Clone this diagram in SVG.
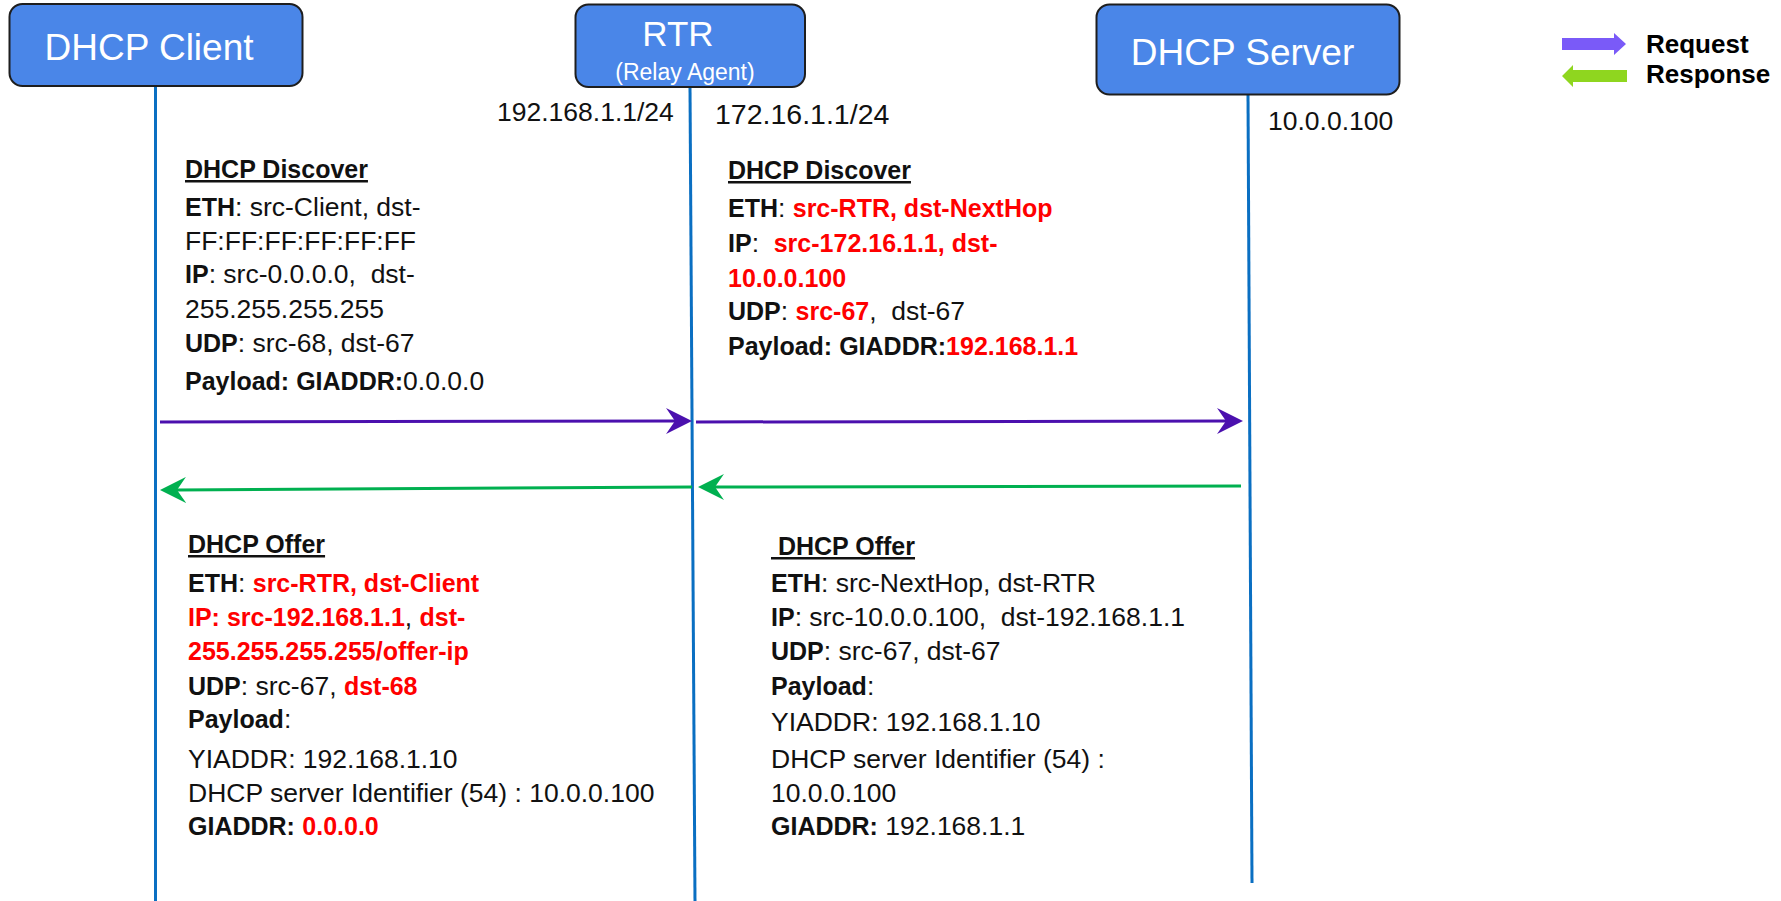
<svg xmlns="http://www.w3.org/2000/svg" width="1781" height="901" viewBox="0 0 1781 901" xml:space="preserve">
<style>
.box{fill:#4a86e8;stroke:#1e1e1e;stroke-width:2}
.hd{font-family:"Liberation Sans",Arial,sans-serif;fill:#ffffff;text-anchor:middle}
.life{stroke:#0a6fc2;stroke-width:3;fill:none}
.t{font-family:"Liberation Sans",Arial,sans-serif;font-size:26.5px;fill:#111111;white-space:pre}
.b{font-weight:bold;font-size:25px}
.r{fill:#ff0000}
.u{text-decoration:underline}
.lbl{font-family:"Liberation Sans",Arial,sans-serif;fill:#111111}
.req{stroke:#4b10ae;stroke-width:3;fill:none}
.rsp{stroke:#00b050;stroke-width:3;fill:none}
.leg{font-family:"Liberation Sans",Arial,sans-serif;font-size:26px;font-weight:bold;fill:#000000}
</style>
<defs>
<marker id="ahReq" markerUnits="userSpaceOnUse" viewBox="0 0 26 26" markerWidth="26" markerHeight="26" refX="9" refY="13" orient="auto"><path d="M0,0 L26,13 L0,26 L9,13 z" fill="#4b10ae"/></marker>
<marker id="ahRsp" markerUnits="userSpaceOnUse" viewBox="0 0 26 26" markerWidth="26" markerHeight="26" refX="9" refY="13" orient="auto"><path d="M0,0 L26,13 L0,26 L9,13 z" fill="#00b050"/></marker>
</defs>
<rect width="1781" height="901" fill="#ffffff"/>
<g id="lifelines">
<line class="life" x1="155.5" y1="86" x2="155.5" y2="901"/>
<line class="life" x1="690" y1="87" x2="695" y2="901"/>
<line class="life" x1="1248" y1="95" x2="1252" y2="883"/>
</g>
<g id="client">
<rect class="box" x="9.5" y="4" width="293" height="82" rx="13"/>
<text class="hd" x="149" y="60" font-size="37">DHCP Client</text>
</g>
<g id="rtr">
<rect class="box" x="575.5" y="4.5" width="229.5" height="82.5" rx="13"/>
<text class="hd" x="678" y="46" font-size="35">RTR</text>
<text class="hd" x="685" y="80" font-size="23" fill="#eef3fd">(Relay Agent)</text>
</g>
<g id="server">
<rect class="box" x="1096.5" y="4.5" width="303" height="90" rx="13"/>
<text class="hd" x="1242.5" y="65" font-size="37">DHCP Server</text>
</g>
<g id="addresses">
<text class="lbl" x="497" y="121" font-size="26.5">192.168.1.1/24</text>
<text class="lbl" x="715" y="124" font-size="28.5">172.16.1.1/24</text>
<text class="lbl" x="1268" y="130" font-size="26.5">10.0.0.100</text>
</g>
<g id="legend">
<polygon points="1562,38 1614,38 1614,33 1626,44 1614,55 1614,50 1562,50" fill="#7a5af8"/>
<polygon points="1562,76 1573,65 1573,70 1627,70 1627,82 1573,82 1573,87" fill="#8fd61f"/>
<text class="leg" x="1646" y="53">Request</text>
<text class="leg" x="1646" y="83">Response</text>
</g>
<g id="connectors">
<line class="req" x1="160" y1="422" x2="675" y2="421" marker-end="url(#ahReq)"/>
<line class="req" x1="696" y1="422" x2="1226" y2="421" marker-end="url(#ahReq)"/>
<line class="rsp" x1="692" y1="487" x2="177" y2="490" marker-end="url(#ahRsp)"/>
<line class="rsp" x1="1241" y1="486" x2="715" y2="487" marker-end="url(#ahRsp)"/>
</g>
<g id="discover-client">
<text class="t" x="185" y="178"><tspan class="b u">DHCP Discover</tspan></text>
<text class="t" x="185" y="216"><tspan class="b">ETH</tspan>: src-Client, dst-</text>
<text class="t" x="185" y="250">FF:FF:FF:FF:FF:FF</text>
<text class="t" x="185" y="283"><tspan class="b">IP</tspan>: src-0.0.0.0,&#160; dst-</text>
<text class="t" x="185" y="318">255.255.255.255</text>
<text class="t" x="185" y="352"><tspan class="b">UDP</tspan>: src-68, dst-67</text>
<text class="t" x="185" y="390"><tspan class="b">Payload: GIADDR:</tspan>0.0.0.0</text>
</g>
<g id="discover-relay">
<text class="t" x="728" y="179"><tspan class="b u">DHCP Discover</tspan></text>
<text class="t" x="728" y="217"><tspan class="b">ETH</tspan>: <tspan class="b r">src-RTR, dst-NextHop</tspan></text>
<text class="t" x="728" y="252"><tspan class="b">IP</tspan>:&#160; <tspan class="b r">src-172.16.1.1, dst-</tspan></text>
<text class="t" x="728" y="287"><tspan class="b r">10.0.0.100</tspan></text>
<text class="t" x="728" y="320"><tspan class="b">UDP</tspan>: <tspan class="b r">src-67</tspan>,&#160; dst-67</text>
<text class="t" x="728" y="355"><tspan class="b">Payload: GIADDR:</tspan><tspan class="b r">192.168.1.1</tspan></text>
</g>
<g id="offer-relay">
<text class="t" x="188" y="553"><tspan class="b u">DHCP Offer</tspan></text>
<text class="t" x="188" y="592"><tspan class="b">ETH</tspan>: <tspan class="b r">src-RTR, dst-Client</tspan></text>
<text class="t" x="188" y="626"><tspan class="b r">IP: src-192.168.1.1</tspan>, <tspan class="b r">dst-</tspan></text>
<text class="t" x="188" y="660"><tspan class="b r">255.255.255.255/offer-ip</tspan></text>
<text class="t" x="188" y="695"><tspan class="b">UDP</tspan>: src-67, <tspan class="b r">dst-68</tspan></text>
<text class="t" x="188" y="728"><tspan class="b">Payload</tspan>:</text>
<text class="t" x="188" y="768">YIADDR: 192.168.1.10</text>
<text class="t" x="188" y="802">DHCP server Identifier (54) : 10.0.0.100</text>
<text class="t" x="188" y="835"><tspan class="b">GIADDR:</tspan> <tspan class="b r">0.0.0.0</tspan></text>
</g>
<g id="offer-server">
<text class="t" x="771" y="555"><tspan class="b u">&#160;DHCP Offer</tspan></text>
<text class="t" x="771" y="592"><tspan class="b">ETH</tspan>: src-NextHop, dst-RTR</text>
<text class="t" x="771" y="626"><tspan class="b">IP</tspan>: src-10.0.0.100,&#160; dst-192.168.1.1</text>
<text class="t" x="771" y="660"><tspan class="b">UDP</tspan>: src-67, dst-67</text>
<text class="t" x="771" y="695"><tspan class="b">Payload</tspan>:</text>
<text class="t" x="771" y="731">YIADDR: 192.168.1.10</text>
<text class="t" x="771" y="768">DHCP server Identifier (54) :</text>
<text class="t" x="771" y="802">10.0.0.100</text>
<text class="t" x="771" y="835"><tspan class="b">GIADDR:</tspan> 192.168.1.1</text>
</g>
</svg>
